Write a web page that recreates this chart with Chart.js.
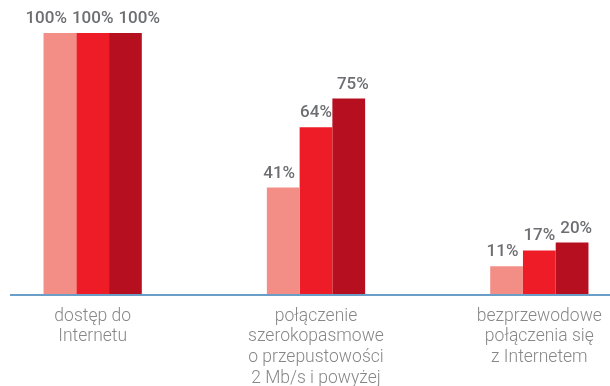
<!DOCTYPE html>
<html>
<head>
<meta charset="utf-8">
<script src="https://cdn.jsdelivr.net/npm/chart.js@4/dist/chart.umd.min.js"></script>
<style>
  html, body { margin: 0; padding: 0; background: #fff; }
  #wrap { position: relative; width: 610px; height: 386px; overflow: hidden; }
  #chart { position: absolute; left: -19px; top: 0; }
</style>
</head>
<body>
<div id="wrap"><canvas id="chart" width="670" height="386"></canvas></div>
<script>
const categories = [
    ['dostęp do', 'Internetu'],
    ['połączenie', 'szerokopasmowe', 'o przepustowości', '2 Mb/s i powyżej'],
    ['bezprzewodowe', 'połączenia się', 'z Internetem']
];
const seriesA = [100, 41, 11];
const seriesB = [100, 64, 17];
const seriesC = [100, 75, 20];
const seriesColors = ['#f38e87', '#ed1c27', '#b50f20'];

const canvasShift = 19; // canvas sits 19px left of the page edge

// value labels above each bar, pushed apart when they would collide
const valueLabels = {
    id: 'valueLabels',
    afterDatasetsDraw(chart) {
        const ctx = chart.ctx;
        const sets = chart.data.datasets;
        ctx.save();
        ctx.font = '500 17px Roboto';
        ctx.fillStyle = '#6d6e71';
        ctx.textAlign = 'center';
        ctx.textBaseline = 'alphabetic';
        chart.data.labels.forEach((_, j) => {
            const items = sets.map((ds, i) => {
                const bar = chart.getDatasetMeta(i).data[j];
                const text = ds.data[j] + '%';
                return { text, x: bar.x, y: bar.y - 10, w: ctx.measureText(text).width };
            });
            const mid = Math.floor(items.length / 2);
            for (let k = mid + 1; k < items.length; k++) {
                const min = items[k - 1].x + (items[k - 1].w + items[k].w) / 2 + 5;
                if (items[k].x < min) items[k].x = min;
            }
            for (let k = mid - 1; k >= 0; k--) {
                const max = items[k + 1].x - (items[k + 1].w + items[k].w) / 2 - 5;
                if (items[k].x > max) items[k].x = max;
            }
            items.forEach(it => ctx.fillText(it.text, it.x, it.y));
        });
        ctx.restore();
    }
};

// blue baseline under the bars
const baseline = {
    id: 'baseline',
    afterDatasetsDraw(chart) {
        const ctx = chart.ctx;
        const y = chart.chartArea.bottom;
        ctx.save();
        ctx.strokeStyle = '#6a9ec6';
        ctx.lineWidth = 2;
        ctx.beginPath();
        ctx.moveTo(10 + canvasShift, y);
        ctx.lineTo(chart.width, y);
        ctx.stroke();
        ctx.restore();
    }
};

new Chart(document.getElementById('chart'), {
    type: 'bar',
    data: {
        labels: categories,
        datasets: [seriesA, seriesB, seriesC].map((values, i) => ({
            data: values,
            backgroundColor: seriesColors[i],
            categoryPercentage: 0.44,
            barPercentage: 1.0
        }))
    },
    options: {
        responsive: false,
        animation: false,
        layout: { padding: { top: 33, left: 0, right: 0, bottom: 0 } },
        plugins: {
            legend: { display: false },
            tooltip: { enabled: false }
        },
        scales: {
            x: {
                grid: { display: false },
                border: { display: false },
                ticks: {
                    color: '#878787',
                    padding: 3,
                    maxRotation: 0,
                    autoSkip: false,
                    font: { family: 'Roboto', weight: 300, size: 17.5, lineHeight: 1.18 }
                },
                afterFit(scale) { scale.height = 91; }
            },
            y: {
                display: false,
                min: 0,
                max: 100
            }
        }
    },
    plugins: [valueLabels, baseline]
});
</script>
</body>
</html>
